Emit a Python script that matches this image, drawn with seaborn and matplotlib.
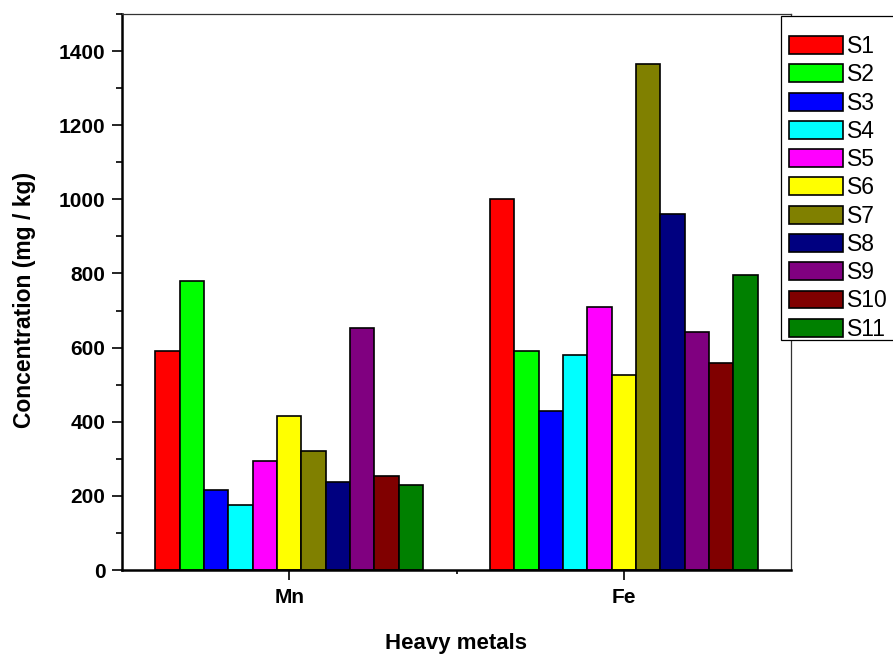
import numpy as np
import pandas as pd
import seaborn as sns
import matplotlib
matplotlib.use("Agg")
import matplotlib.pyplot as plt
import matplotlib.patches as patches
from matplotlib.ticker import MultipleLocator, FixedLocator

# ========================================
# Data
# ========================================
metals = ["Mn", "Fe"]
samples = ["S1", "S2", "S3", "S4", "S5", "S6", "S7", "S8", "S9", "S10", "S11"]
mn_values = [592, 780, 217, 175, 293, 416, 320, 238, 653, 254, 229]
fe_values = [1000, 591, 428, 581, 710, 526, 1365, 961, 643, 559, 797]
sample_colors = ["#FF0000", "#00FF00", "#0000FF", "#00FFFF", "#FF00FF", "#FFFF00",
                 "#808000", "#000080", "#800080", "#800000", "#008000"]

df = pd.DataFrame({
    "metal": ["Mn"] * len(samples) + ["Fe"] * len(samples),
    "sample": samples + samples,
    "value": mn_values + fe_values,
})

# ========================================
# Plot
# ========================================
sns.set_style("ticks")
plt.rcParams['font.family'] = ['Liberation Sans', 'DejaVu Sans']
plt.rcParams.update({'text.color': 'black', 'axes.labelcolor': 'black',
                     'xtick.color': 'black', 'ytick.color': 'black'})

W, H = 893, 654
fig = plt.figure(figsize=(W / 100, H / 100), dpi=100)
ax = fig.add_axes([122 / W, 1 - 570 / H, (791 - 122) / W, (570 - 14) / H])

sns.barplot(data=df, x="metal", y="value", hue="sample", order=metals,
            hue_order=samples, palette=sample_colors, width=0.8,
            edgecolor="black", linewidth=1.2, saturation=1, ax=ax)

ax.set_ylim(0, 1500)
ax.set_xlim(-0.5, 1.5)
ax.yaxis.set_major_locator(MultipleLocator(200))
ax.yaxis.set_minor_locator(MultipleLocator(100))
ax.xaxis.set_minor_locator(FixedLocator([0.5]))

ax.tick_params(axis='both', which='major', direction='out', length=7, width=1.2,
               labelsize=15, colors='black')
ax.tick_params(axis='y', which='minor', direction='out', length=4.3, width=1.2)
ax.tick_params(axis='x', which='minor', direction='out', length=3, width=1.2)
ax.tick_params(axis='y', which='major', pad=5)
ax.tick_params(axis='x', which='major', pad=6)
for lbl in ax.get_xticklabels() + ax.get_yticklabels():
    lbl.set_fontweight('bold')

ax.set_xlabel("Heavy metals", fontsize=16, fontweight='bold', color='black')
ax.set_ylabel("Concentration (mg / kg)", fontsize=16.5, fontweight='bold', color='black')
ax.xaxis.set_label_coords((456 - 122) / (791 - 122), (570 - 633) / (570 - 14))
ax.yaxis.set_label_coords((36 - 122) / (791 - 122), (570 - 300) / (570 - 14))

for side in ['left', 'bottom']:
    ax.spines[side].set_linewidth(1.8)
    ax.spines[side].set_color('black')
for side in ['top', 'right']:
    ax.spines[side].set_visible(True)
    ax.spines[side].set_linewidth(0.9)
    ax.spines[side].set_color('#333333')

# Legend outside, top right (box runs off the figure edge)
handles, labels = ax.get_legend_handles_labels()
if ax.get_legend() is not None:
    ax.get_legend().remove()

frame = patches.Rectangle((781 / W, 1 - 340 / H), 140 / W, (340 - 16) / H,
                          transform=fig.transFigure, facecolor='white',
                          edgecolor='black', linewidth=0.9, zorder=5)
fig.patches.append(frame)

leg = fig.legend(handles, labels, loc='upper left',
                 bbox_to_anchor=(789 / W, 1 - 35 / H),
                 fontsize=16.5, frameon=False, borderaxespad=0, borderpad=0,
                 handlelength=2.35, handleheight=0.82, handletextpad=0.17,
                 labelspacing=0.23)
leg.set_zorder(6)
for txt in leg.get_texts():
    txt.set_color('black')

fig.savefig("out.png", dpi=100)
